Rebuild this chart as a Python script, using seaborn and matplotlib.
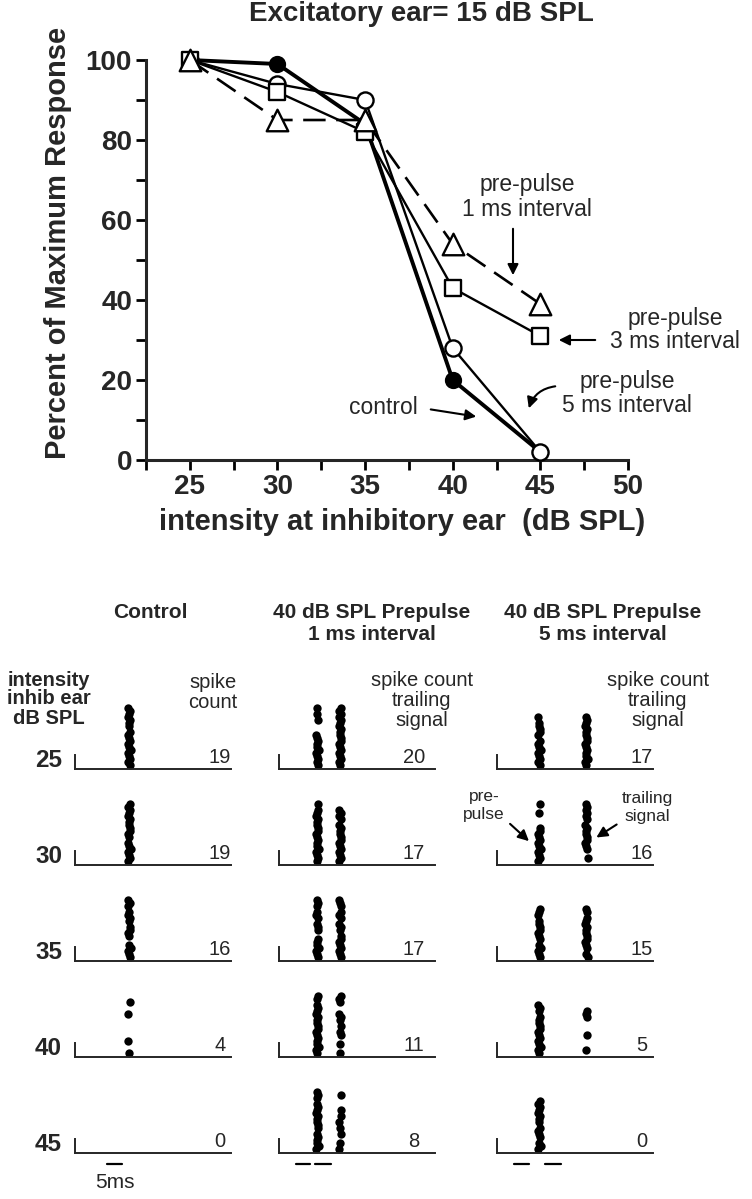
import pandas as pd
import matplotlib
matplotlib.use("Agg")
import matplotlib.pyplot as plt
import seaborn as sns

# ---------------- top panel: percent of max response ----------------
inhib_db = [25, 30, 35, 40, 45]
control = [100, 99, 84, 20, 2]
prepulse_5ms = [100, 94, 90, 28, 2]
prepulse_3ms = [100, 92, 82, 43, 31]
prepulse_1ms = [100, 85, 85, 54, 39]

# ---------------- rasters: trials (0 = bottom) that fired ----------------
raster_levels = [25, 30, 35, 40, 45]
ctrl_trials = [
    [0, 1, 2, 3, 4, 5, 6, 7, 8, 9, 10, 11, 13, 14, 15, 16, 17, 18, 19],
    [0, 1, 2, 3, 4, 5, 6, 8, 9, 10, 11, 12, 13, 14, 15, 16, 17, 18, 19],
    [0, 1, 2, 3, 4, 7, 8, 9, 10, 12, 13, 14, 15, 17, 18, 19],
    [0, 4, 13, 17],
    [],
]
pp1_pre_trials = [
    [0, 1, 2, 3, 4, 5, 6, 7, 8, 9, 10, 15, 17, 19],
    [0, 1, 2, 3, 4, 5, 6, 7, 8, 9, 10, 11, 12, 13, 14, 15, 16, 17, 19],
    [0, 1, 2, 3, 4, 5, 6, 9, 10, 11, 13, 14, 15, 17, 18, 19],
    [0, 1, 2, 3, 4, 5, 6, 7, 8, 9, 10, 11, 12, 13, 14, 15, 16, 18, 19],
    [0, 1, 2, 3, 4, 5, 7, 8, 9, 10, 11, 12, 13, 14, 15, 17, 18, 19],
]
pp1_trail_trials = [
    [0, 1, 2, 3, 4, 5, 6, 7, 8, 9, 10, 11, 12, 13, 14, 15, 16, 17, 18, 19],
    [0, 1, 2, 3, 4, 5, 6, 7, 8, 9, 10, 11, 12, 14, 15, 16, 17],
    [0, 1, 2, 3, 4, 5, 6, 7, 9, 10, 11, 13, 14, 15, 17, 18, 19],
    [0, 3, 6, 7, 9, 11, 12, 13, 17, 18, 19],
    [0, 2, 5, 7, 9, 11, 13, 18],
]
pp5_pre_trials = [
    [0, 1, 2, 3, 4, 5, 6, 7, 8, 10, 11, 12, 13, 14, 16],
    [0, 1, 2, 3, 4, 5, 6, 7, 8, 9, 10, 11, 16, 19],
    [0, 1, 2, 3, 4, 6, 7, 8, 9, 10, 11, 12, 14, 15, 16],
    [0, 1, 2, 3, 4, 5, 6, 7, 8, 9, 10, 11, 12, 14, 15, 16],
    [0, 1, 2, 4, 5, 6, 7, 9, 10, 11, 12, 13, 14, 15, 16],
]
pp5_trail_trials = [
    [0, 1, 2, 3, 4, 5, 6, 7, 8, 9, 10, 11, 12, 13, 14, 15, 16],
    [1, 4, 5, 6, 7, 8, 9, 10, 11, 12, 14, 15, 16, 17, 18, 19],
    [0, 1, 3, 4, 5, 6, 7, 8, 9, 10, 11, 12, 13, 15, 16],
    [1, 6, 12, 13, 14],
    [],
]
ctrl_counts = [19, 19, 16, 4, 0]
pp1_counts = [20, 17, 17, 11, 8]
pp5_counts = [17, 16, 15, 5, 0]

# spike latency (ms from sweep start) of each column
ctrl_time = [18]
pp1_time = [12.7, 20.3]
pp5_time = [14, 29.7]
# small trial-to-trial latency wobble (ms)
wobble = [0.3, -0.2, 0.4, 0.0, -0.3, 0.5, 0.1, -0.2, 0.3, 0.0,
          -0.4, 0.2, 0.4, -0.1, 0.0, 0.3, -0.3, 0.1, 0.4, -0.2]
# stimulus bars (ms) under the last row
ctrl_bars = [(10.5, 15.5)]
pp1_bars = [(5.5, 10.3), (12, 17.3)]
pp5_bars = [(5.7, 10.7), (16, 21.3)]

W, H = 752, 1199
sns.set_style("ticks")
plt.rcParams["font.family"] = ["Liberation Sans", "DejaVu Sans"]

fig = plt.figure(figsize=(W / 100, H / 100), dpi=100)
fig.patch.set_facecolor("white")


def fx(px):
    return px / W


def fy(py):
    return 1 - py / H


def stack(x, ys, texts, **kw):
    for y, t in zip(ys, texts):
        fig.text(fx(x), fy(y), t, ha="center", va="center", **kw)


def arrow(p0, p1, rad=0.0):
    fig.add_artist(matplotlib.patches.FancyArrowPatch(
        (fx(p0[0]), fy(p0[1])), (fx(p1[0]), fy(p1[1])),
        transform=fig.transFigure, arrowstyle="-|>", mutation_scale=16,
        lw=1.5, color="black", connectionstyle=f"arc3,rad={rad}"))


# ---------------- top chart ----------------
ax = fig.add_axes([fx(146), fy(460), 482 / W, 400 / H])

series = [
    (control, "o", "black", 115, 2.8, "-"),
    (prepulse_5ms, "o", "white", 135, 1.7, "-"),
    (prepulse_3ms, "s", "white", 120, 1.7, "-"),
    (prepulse_1ms, "^", "white", 240, 1.9, (0, (8.5, 4))),
]
for vals, mk, fc, s, lw, ls in series:
    sns.lineplot(x=inhib_db, y=vals, ax=ax, color="black", lw=lw,
                 linestyle=ls, clip_on=False, zorder=2)
for vals, mk, fc, s, lw, ls in series:
    sns.scatterplot(x=inhib_db, y=vals, ax=ax, marker=mk, s=s, color=fc,
                    edgecolor="black", linewidth=1.7, clip_on=False, zorder=3)

ax.set_xlim(22.5, 50)
ax.set_ylim(0, 100)
ax.set_xticks([25, 30, 35, 40, 45, 50])
ax.set_xticks([22.5, 27.5, 32.5, 37.5, 42.5, 47.5], minor=True)
ax.set_yticks([0, 20, 40, 60, 80, 100])
ax.set_yticks([10, 30, 50, 70, 90], minor=True)
ax.tick_params(which="both", direction="out", length=7, width=2, color="black")
ax.tick_params(which="major", labelsize=20, pad=3)
for lab in ax.get_xticklabels() + ax.get_yticklabels():
    lab.set_fontweight("bold")
sns.despine(ax=ax)
for sp in ["left", "bottom"]:
    ax.spines[sp].set_linewidth(2.2)
ax.set_xlabel("")
ax.set_ylabel("")
ax.patch.set_alpha(0)

fig.text(fx(421), fy(14), "Excitatory ear= 15 dB SPL", ha="center", va="center",
         fontsize=20, weight="bold")
fig.text(fx(58), fy(243), "Percent of Maximum Response", ha="center", va="center",
         rotation=90, fontsize=21, weight="bold")
fig.text(fx(402), fy(522), "intensity at inhibitory ear  (dB SPL)", ha="center",
         va="center", fontsize=21, weight="bold")

stack(527, [185, 209], ["pre-pulse", "1 ms interval"], fontsize=16.5)
arrow((513, 226), (513, 278))
stack(675, [318, 342], ["pre-pulse", "3 ms interval"], fontsize=16.5)
arrow((598, 340), (556, 340))
stack(627, [382, 405], ["pre-pulse", "5 ms interval"], fontsize=16.5)
arrow((558, 386), (528, 411), rad=0.35)
fig.text(fx(383), fy(408), "control", ha="center", va="center", fontsize=16.5)
arrow((428, 409), (479, 417))

# ---------------- rasters ----------------
col_x0 = [75, 279, 497]
row_base = [769, 865, 961, 1057, 1153]
count_x = [220, 414, 642]
columns = [
    ([ctrl_trials], ctrl_time, ctrl_counts, ctrl_bars),
    ([pp1_pre_trials, pp1_trail_trials], pp1_time, pp1_counts, pp1_bars),
    ([pp5_pre_trials, pp5_trail_trials], pp5_time, pp5_counts, pp5_bars),
]
y_lo = -1.15
for c, (trial_sets, times, counts, bars) in enumerate(columns):
    for r, base in enumerate(row_base):
        rax = fig.add_axes([fx(col_x0[c]), fy(base), 156 / W, 70 / H])
        rows = []
        for j, (trials, t) in enumerate(zip(trial_sets, times)):
            rows += [{"t": t + wobble[(k + 3 * j + r) % 20], "trial": k}
                     for k in trials[r]]
        if rows:
            sns.scatterplot(data=pd.DataFrame(rows), x="t", y="trial", ax=rax,
                            color="black", s=36, linewidth=0, legend=False,
                            clip_on=False)
        rax.set_xlim(0, 52)
        rax.set_ylim(y_lo, 21.8)
        rax.set_xticks([])
        rax.set_yticks([])
        rax.set_xlabel("")
        rax.set_ylabel("")
        rax.patch.set_alpha(0)
        for sp in ["top", "right"]:
            rax.spines[sp].set_visible(False)
        rax.spines["left"].set_bounds(y_lo, 3.5)
        for sp in ["left", "bottom"]:
            rax.spines[sp].set_linewidth(1.4)
        fig.text(fx(count_x[c]), fy(base - 6), str(counts[r]), ha="center",
                 va="baseline", fontsize=14.5)
        if r == len(row_base) - 1:
            for t0, t1 in bars:
                rax.plot([t0, t1], [y_lo - 3.6, y_lo - 3.6], color="black",
                         lw=1.6, clip_on=False)

for level, base in zip(raster_levels, row_base):
    fig.text(fx(62), fy(base - 2), str(level), ha="right", va="baseline",
             fontsize=17.5, weight="bold")

fig.text(fx(115), fy(1183), "5ms", ha="center", va="center", fontsize=15)

stack(150, [613], ["Control"], fontsize=15, weight="bold")
stack(372, [613, 635], ["40 dB SPL Prepulse", "1 ms interval"], fontsize=15, weight="bold")
stack(603, [613, 635], ["40 dB SPL Prepulse", "5 ms interval"], fontsize=15, weight="bold")
stack(49, [680, 699, 718], ["intensity", "inhib ear", "dB SPL"], fontsize=14.5, weight="bold")
stack(213, [682, 702], ["spike", "count"], fontsize=14.5)
stack(422, [680, 700, 720], ["spike count", "trailing", "signal"], fontsize=14.5)
stack(658, [680, 700, 720], ["spike count", "trailing", "signal"], fontsize=14.5)

stack(484, [797, 815], ["pre-", "pulse"], fontsize=12.5)
arrow((508, 822), (531, 843))
stack(647, [798, 816], ["trailing", "signal"], fontsize=12.5)
arrow((619, 823), (594, 839))

fig.savefig("out.png", dpi=100, facecolor="white")
